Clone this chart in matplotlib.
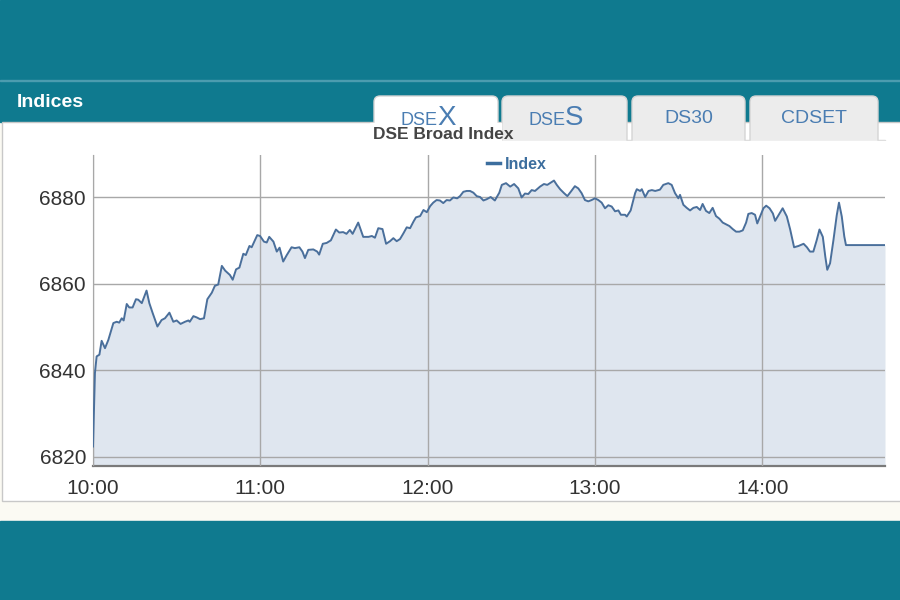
import matplotlib
matplotlib.use("Agg")
import matplotlib.pyplot as plt
from matplotlib.patches import Rectangle, FancyBboxPatch

plt.rcParams['font.family'] = ['Liberation Sans', 'DejaVu Sans']

# minutes after 10:00 and DSEX index values
minutes = [0, 0.7, 1.3, 2.3, 3.1, 4.3, 5.5, 7.3, 8.5, 9.4, 10.3, 11.0, 12.1, 13.0, 14.2,
           15.4, 16.2, 17.5, 19.2, 20.2, 21.4, 23.1, 24.6, 25.8, 27.4, 28.8, 30.0, 31.4,
           33.0, 34.2, 34.7, 36.0, 37.2, 38.4, 39.8, 41.0, 42.6, 43.7, 44.9, 46.2, 47.4,
           49.1, 50.1, 51.3, 52.5, 53.9, 54.8, 56.1, 56.9, 58.9, 59.9, 61.3, 62.3, 63.2,
           64.7, 65.9, 66.9, 68.2, 69.4, 71.2, 72.4, 74.0, 75.1, 76.0, 77.2, 79.0, 80.4,
           81.1, 82.4, 83.8, 85.3, 87.1, 88.3, 89.7, 90.9, 92.1, 93.1, 95.1, 96.9, 98.8,
           100.0, 101.1, 102.3, 103.8, 105.1, 106.5, 107.7, 108.9, 110.1, 111.3, 112.5,
           113.7, 114.9, 115.8, 117.3, 118.5, 119.7, 120.9, 122.0, 123.2, 124.4, 125.6,
           126.8, 128.0, 129.2, 130.6, 131.6, 132.8, 134.0, 135.2, 136.4, 137.6, 138.8,
           140.0, 141.2, 142.6, 144.1, 145.7, 146.6, 148.1, 149.6, 151.0, 152.5, 153.7,
           154.9, 156.1, 157.3, 158.5, 160.3, 161.7, 162.9, 164.1, 165.3, 166.3, 167.5,
           168.9, 170.1, 171.3, 172.8, 174.0, 175.2, 176.4, 177.6, 178.8, 180.0, 181.2,
           182.4, 183.6, 184.8, 186.0, 187.2, 188.4, 189.3, 190.8, 191.4, 192.8, 194.4,
           195.0, 196.2, 196.8, 198.0, 199.2, 200.4, 201.6, 203.3, 204.5, 206.3, 207.5,
           208.7, 209.9, 210.5, 211.7, 212.9, 214.1, 215.3, 216.5, 217.7, 218.6, 219.8,
           221.0, 222.2, 223.4, 224.6, 225.8, 227.0, 228.2, 229.4, 230.6, 231.8, 233.0,
           234.2, 235.0, 236.2, 237.4, 238.2, 238.9, 240.4, 241.4, 242.6, 243.8, 244.6,
           245.8, 247.3, 248.8, 250.0, 251.4, 253.0, 254.8, 256.0, 257.1, 258.3, 259.5,
           260.5, 261.7, 262.6, 263.3, 264.3, 265.5, 266.7, 267.5, 268.5, 269.4, 270.0,
           284.0]
index_values = [6822.4, 6839.4, 6843.2, 6843.6, 6846.8, 6845.1, 6847.0, 6850.9, 6851.2, 6851.0,
                6852.0, 6851.5, 6855.3, 6854.5, 6854.5, 6856.4, 6856.3, 6855.5, 6858.4, 6855.5,
                6853.2, 6850.1, 6851.6, 6852.0, 6853.3, 6851.2, 6851.5, 6850.7, 6851.2, 6851.5,
                6851.2, 6852.5, 6852.2, 6851.8, 6852.0, 6856.4, 6857.9, 6859.5, 6859.8, 6864.1,
                6863.0, 6862.0, 6860.9, 6863.3, 6863.7, 6866.9, 6866.6, 6868.7, 6868.4, 6871.2,
                6871.0, 6869.7, 6869.5, 6870.8, 6869.7, 6867.4, 6868.3, 6865.1, 6866.5, 6868.4,
                6868.2, 6868.4, 6867.4, 6865.9, 6867.8, 6867.9, 6867.4, 6866.7, 6869.2, 6869.4,
                6870.0, 6872.5, 6871.8, 6871.9, 6871.5, 6872.4, 6871.5, 6874.1, 6870.8, 6870.8,
                6871.0, 6870.6, 6872.8, 6872.6, 6869.2, 6869.8, 6870.5, 6869.8, 6870.3, 6871.6,
                6873.0, 6872.8, 6874.3, 6875.3, 6875.6, 6877.0, 6876.5, 6877.9, 6878.7, 6879.3,
                6879.2, 6878.6, 6879.3, 6879.2, 6879.9, 6879.7, 6880.2, 6881.2, 6881.4, 6881.4,
                6881.0, 6880.2, 6880.0, 6879.2, 6879.5, 6880.0, 6879.2, 6881.0, 6882.8, 6883.2,
                6882.4, 6883.0, 6882.0, 6879.9, 6880.8, 6880.7, 6881.6, 6881.4, 6882.4, 6883.0,
                6882.8, 6883.3, 6883.8, 6882.8, 6881.8, 6880.9, 6880.2, 6881.2, 6882.5, 6882.0,
                6880.9, 6879.3, 6879.0, 6879.3, 6879.7, 6879.3, 6878.7, 6877.4, 6878.1, 6877.8,
                6876.7, 6876.9, 6875.9, 6875.9, 6875.5, 6876.9, 6880.9, 6881.8, 6881.4, 6881.8,
                6880.0, 6881.4, 6881.6, 6881.4, 6881.7, 6882.8, 6883.2, 6882.8, 6880.9, 6879.7,
                6880.5, 6878.2, 6877.5, 6876.9, 6877.5, 6877.7, 6877.0, 6878.4, 6876.8, 6876.3,
                6877.5, 6875.6, 6875.0, 6874.1, 6873.7, 6873.3, 6872.6, 6872.0, 6872.0, 6872.3,
                6874.1, 6876.1, 6876.3, 6875.9, 6873.9, 6875.0, 6877.4, 6878.0, 6877.4, 6876.2,
                6874.5, 6875.8, 6877.4, 6875.5, 6872.5, 6868.4, 6868.7, 6869.2, 6868.4, 6867.4,
                6867.4, 6870.0, 6872.5, 6870.8, 6866.2, 6863.2, 6864.7, 6870.0, 6875.8, 6878.7,
                6875.5, 6870.9, 6868.9, 6868.9]

hour_ticks = [0, 60, 120, 180, 240]
hour_labels = ["10:00", "11:00", "12:00", "13:00", "14:00"]
y_ticks = [6820, 6840, 6860, 6880]
tab_names = ["DSEX", "DSES", "DS30", "CDSET"]

teal = "#0f7a8f"
line_color = "#4a6f9b"
fill_color = "#dfe6ef"
tab_text = "#4a7db2"

fig = plt.figure(figsize=(9, 6), dpi=100)

# page background drawn in pixel coordinates (y down)
bg = fig.add_axes([0, 0, 1, 1])
bg.set_xlim(0, 900)
bg.set_ylim(600, 0)
bg.axis("off")
bg.add_patch(Rectangle((0, 0), 900, 600, color="#fbfaf3"))
bg.add_patch(Rectangle((0, 0), 900, 122, color=teal))
bg.add_patch(Rectangle((0, 79.5), 900, 1.5, color="#4c9caf"))
bg.add_patch(Rectangle((0, 521), 900, 79, color=teal))
bg.add_patch(Rectangle((2, 122), 900, 379, facecolor="white", edgecolor="#c8c8c8", lw=1))
bg.text(17, 107, "Indices", color="white", fontsize=14, fontweight="bold", va="baseline")

# tabs
bg.add_patch(Rectangle((627, 139.5), 258, 2, color="#d6d6d6"))
tab_boxes = [(374, 498), (502, 627), (632, 745), (750, 878)]
for i, (x0, x1) in enumerate(tab_boxes):
    active = i == 0
    bg.add_patch(FancyBboxPatch((x0, 96), x1 - x0, 60,
                                boxstyle="round,pad=0,rounding_size=6",
                                facecolor="white" if active else "#ececec",
                                edgecolor="#d4d4d4", lw=1, zorder=2))
# active tab opens into the panel, inactive ones stop at the shadow line
bg.add_patch(Rectangle((370, 122.5), 131, 40, color="white", zorder=3))
bg.add_patch(Rectangle((500, 140.5), 400, 30, color="white", zorder=3))
for name, (x0, x1), split in zip(tab_names[:2], tab_boxes[:2], [438, 566]):
    bg.text(split, 125, name[:3], color=tab_text, fontsize=13, ha="right",
            va="baseline", zorder=4)
    bg.text(split - 1, 125, name[3], color=tab_text, fontsize=20, ha="left",
            va="baseline", zorder=4)
for name, (x0, x1) in zip(tab_names[2:], tab_boxes[2:]):
    bg.text((x0 + x1) / 2, 123, name, color=tab_text, fontsize=14, ha="center",
            va="baseline", zorder=4)
bg.text(373, 139, "DSE Broad Index", color="#454545", fontsize=12.5,
        fontweight="bold", va="baseline", zorder=5)

# chart
ax = fig.add_axes([93 / 900, 1 - 466 / 600, 792 / 900, 311 / 600])
ax.set_facecolor("white")
ax.fill_between(minutes, index_values, 6800, color=fill_color, lw=0, zorder=1)
ax.plot(minutes, index_values, color=line_color, lw=1.4, label="Index", zorder=3)
ax.set_xlim(0, 284)
ax.set_ylim(6817.9, 6889.7)
ax.set_xticks(hour_ticks)
ax.set_xticklabels(hour_labels)
ax.set_yticks(y_ticks)
ax.grid(True, color="#a8a8a8", lw=1, zorder=2)
ax.set_axisbelow(False)
for s in ["top", "right"]:
    ax.spines[s].set_visible(False)
ax.spines["left"].set_color("#8a8a8a")
ax.spines["bottom"].set_color("#7a7a7a")
ax.spines["bottom"].set_linewidth(1.6)
ax.tick_params(length=0, labelsize=15, colors="#333333")
ax.tick_params(axis="x", pad=9)
ax.tick_params(axis="y", pad=5)
leg = ax.legend(loc="upper center", bbox_to_anchor=(0.535, 1.015), frameon=False,
                handlelength=0.8, handletextpad=0.3, borderaxespad=0,
                prop={"weight": "bold", "size": 11.5})
for t in leg.get_texts():
    t.set_color("#3c6e9e")
for h in leg.get_lines():
    h.set_linewidth(2.5)
    h.set_color("#3c6e9e")

fig.savefig("out.png", dpi=100)
